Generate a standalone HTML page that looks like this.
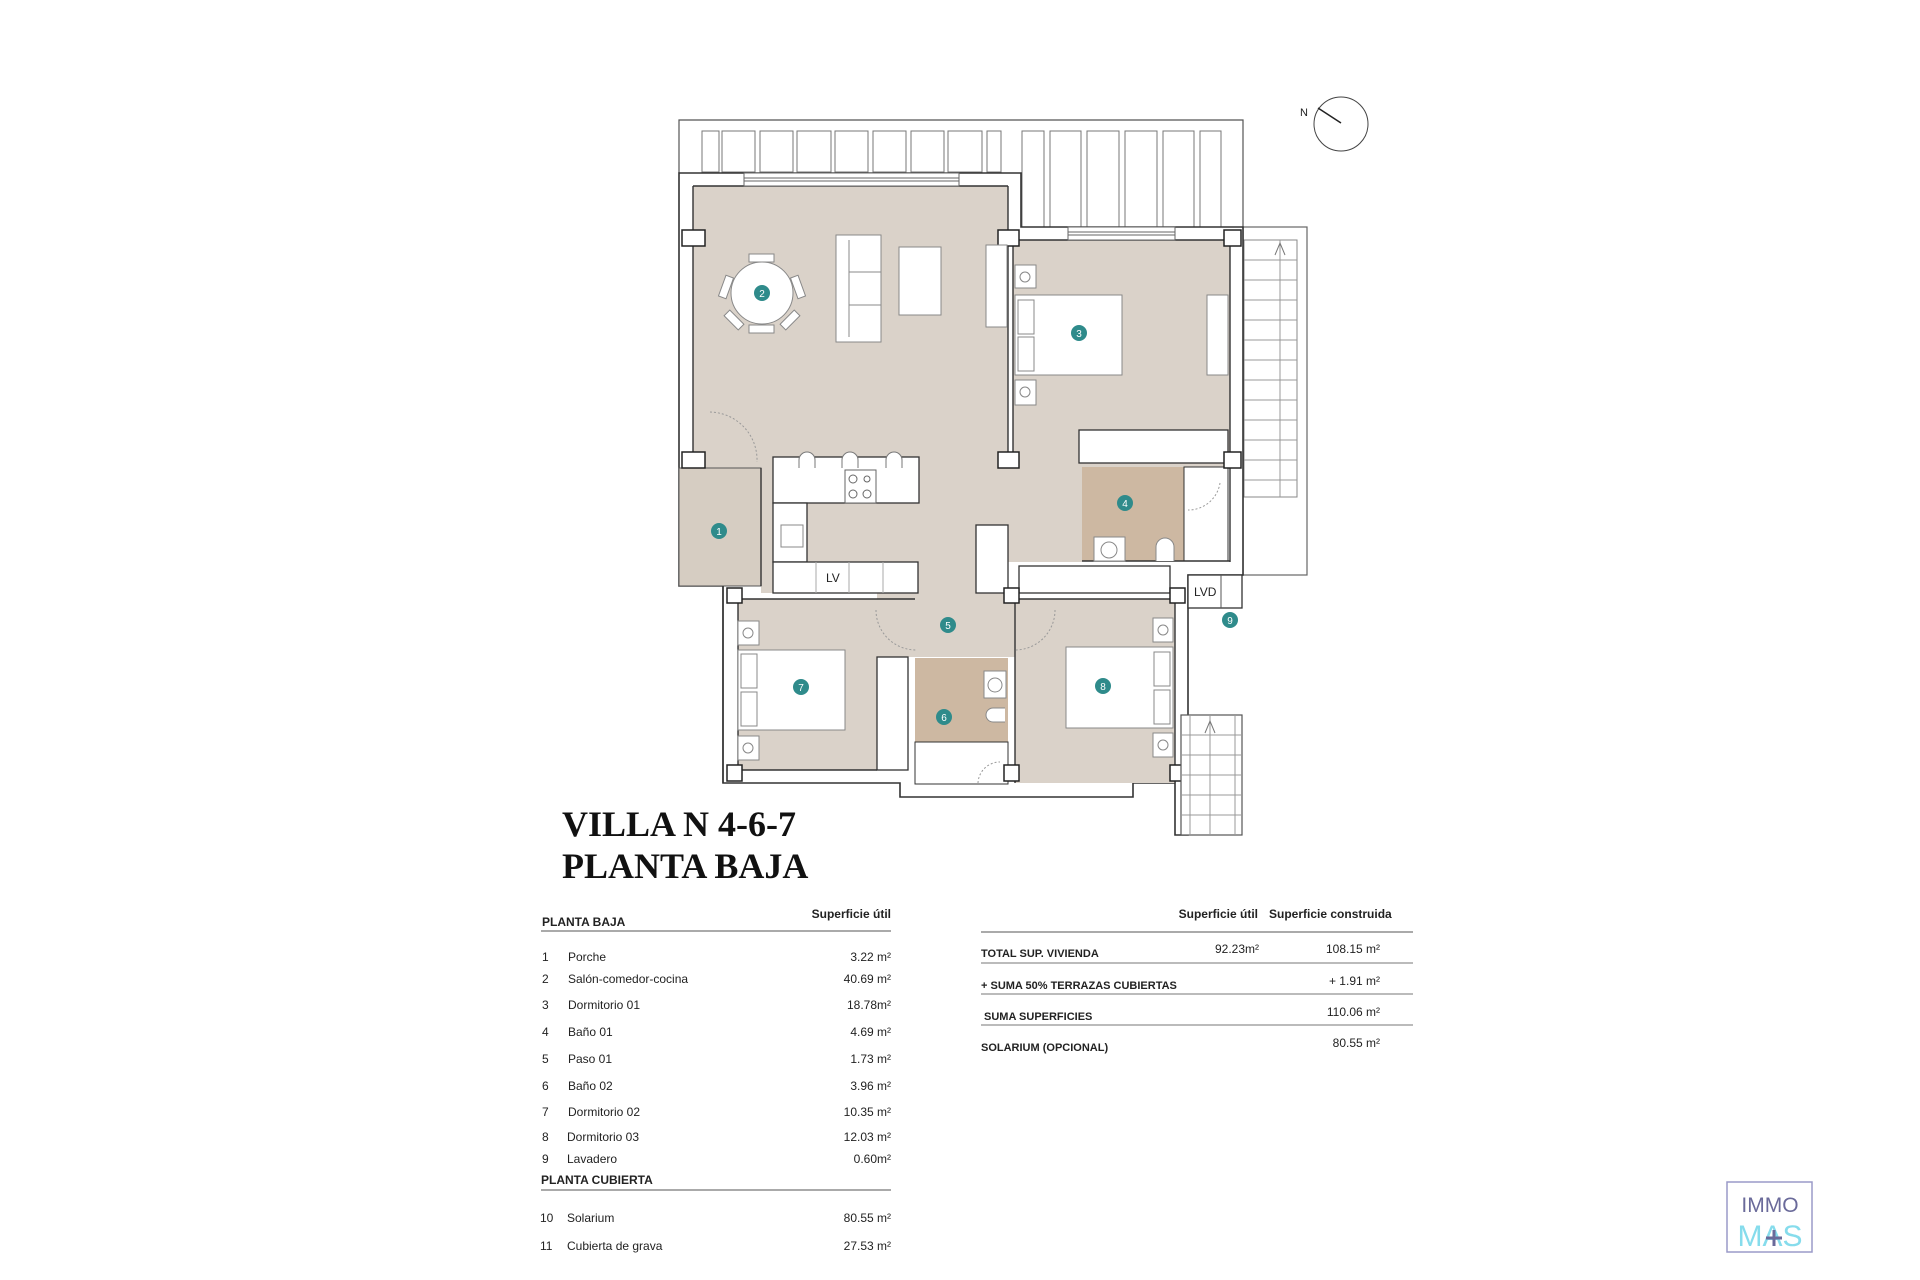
<!DOCTYPE html>
<html><head><meta charset="utf-8"><style>
html,body{margin:0;padding:0;background:#fff}
svg{display:block}
text{font-family:"Liberation Sans",sans-serif;fill:#222}
</style></head><body>
<svg width="1920" height="1280" viewBox="0 0 1920 1280" xmlns="http://www.w3.org/2000/svg">
<rect width="1920" height="1280" fill="#fff"/>
<circle cx="1341" cy="124" r="27" fill="none" stroke="#444" stroke-width="1"/>
<line x1="1318" y1="108" x2="1341" y2="123" stroke="#222" stroke-width="1.5"/>
<text x="1300" y="116" font-size="11">N</text>

<path d="M679,173 V120 H1243 V227" fill="none" stroke="#555" stroke-width="1.2"/>
<g fill="#fff" stroke="#777" stroke-width="1">
<rect x="702" y="131" width="17" height="41"/><rect x="722" y="131" width="33" height="41"/><rect x="760" y="131" width="33" height="41"/><rect x="797" y="131" width="34" height="41"/><rect x="835" y="131" width="33" height="41"/><rect x="873" y="131" width="33" height="41"/><rect x="911" y="131" width="33" height="41"/><rect x="948" y="131" width="34" height="41"/><rect x="987" y="131" width="14" height="41"/>
<rect x="1022" y="131" width="22" height="96"/><rect x="1050" y="131" width="31" height="96"/><rect x="1087" y="131" width="32" height="96"/><rect x="1125" y="131" width="32" height="96"/><rect x="1163" y="131" width="31" height="96"/><rect x="1200" y="131" width="21" height="96"/>
</g>
<rect x="1243" y="227" width="64" height="348" fill="#fff" stroke="#666" stroke-width="1.2"/>
<rect x="1244" y="240" width="53" height="257" fill="none" stroke="#888" stroke-width="1"/>
<g stroke="#999" stroke-width="1">
<line x1="1244" y1="260" x2="1297" y2="260"/><line x1="1244" y1="280" x2="1297" y2="280"/><line x1="1244" y1="300" x2="1297" y2="300"/><line x1="1244" y1="320" x2="1297" y2="320"/><line x1="1244" y1="340" x2="1297" y2="340"/><line x1="1244" y1="360" x2="1297" y2="360"/><line x1="1244" y1="380" x2="1297" y2="380"/><line x1="1244" y1="400" x2="1297" y2="400"/><line x1="1244" y1="420" x2="1297" y2="420"/><line x1="1244" y1="440" x2="1297" y2="440"/><line x1="1244" y1="460" x2="1297" y2="460"/><line x1="1244" y1="480" x2="1297" y2="480"/>
<line x1="1280" y1="240" x2="1280" y2="497"/>
</g>
<path d="M1275,255 L1280,243 L1285,255" fill="none" stroke="#777"/>

<path d="M679,173 H1021 V227 H1243 V575 H1188 V835 H1175 V783 H1133 V797 H900 V783 H723 V586 H679 Z" fill="#fff" stroke="#333" stroke-width="1.6"/>

<g fill="#dad2c9">
<rect x="693" y="186" width="315" height="282"/>
<rect x="761" y="468" width="247" height="125"/>
<rect x="1013" y="240" width="217" height="228"/>
<rect x="1008" y="468" width="74" height="94"/>
<rect x="877" y="593" width="138" height="64"/>
<rect x="738" y="599" width="139" height="171"/>
<rect x="1015" y="599" width="160" height="184"/>
</g>
<rect x="679" y="468" width="82" height="118" fill="#d6cdc2" stroke="#555" stroke-width="1"/>
<rect x="1082" y="467" width="102" height="94" fill="#cdb8a2"/>
<rect x="1184" y="467" width="44" height="94" fill="#fff" stroke="#333"/>
<rect x="915" y="658" width="93" height="84" fill="#cdb8a2"/>
<rect x="915" y="742" width="93" height="42" fill="#fff" stroke="#333"/>

<g fill="none" stroke="#333" stroke-width="1.4">
<line x1="693" y1="186" x2="1008" y2="186"/>
<line x1="693" y1="186" x2="693" y2="452"/>
<line x1="1008" y1="186" x2="1008" y2="468"/>
<line x1="1013" y1="240" x2="1013" y2="468"/>
<line x1="1013" y1="240" x2="1230" y2="240"/>
<line x1="1230" y1="240" x2="1230" y2="562"/>
<line x1="761" y1="468" x2="761" y2="586"/>
<line x1="723" y1="586" x2="723" y2="783"/>
<line x1="738" y1="599" x2="738" y2="770"/>
<line x1="738" y1="770" x2="877" y2="770"/>
<line x1="1015" y1="599" x2="1015" y2="783"/>
<line x1="1175" y1="599" x2="1175" y2="783"/>
<line x1="1082" y1="561" x2="1230" y2="561"/>
<line x1="738" y1="599" x2="915" y2="599"/>
<line x1="1015" y1="599" x2="1175" y2="599"/>
</g>
<g stroke="#666" stroke-width="1">
<rect x="744" y="173" width="215" height="13" fill="#fff"/>
<line x1="744" y1="178" x2="959" y2="178"/><line x1="744" y1="181" x2="959" y2="181"/>
<rect x="1068" y="227" width="107" height="13" fill="#fff"/>
<line x1="1068" y1="232" x2="1175" y2="232"/><line x1="1068" y1="235" x2="1175" y2="235"/>
</g>
<g fill="#fff" stroke="#333" stroke-width="1.3">
<rect x="1079" y="430" width="149" height="33"/>
<rect x="976" y="525" width="32" height="68"/>
<rect x="1019" y="566" width="151" height="27"/>
<rect x="877" y="657" width="31" height="113"/>
<rect x="773" y="457" width="146" height="46"/>
<rect x="773" y="503" width="34" height="59"/>
<rect x="773" y="562" width="145" height="31"/>
<rect x="1188" y="575" width="54" height="33"/>
</g>
<g fill="#fff" stroke="#222" stroke-width="1.5">
<rect x="682" y="230" width="23" height="16"/><rect x="998" y="230" width="21" height="16"/><rect x="1224" y="230" width="17" height="16"/>
<rect x="682" y="452" width="23" height="16"/><rect x="998" y="452" width="21" height="16"/><rect x="1224" y="452" width="17" height="16"/>
<rect x="727" y="588" width="15" height="15"/><rect x="1004" y="588" width="15" height="15"/><rect x="1170" y="588" width="15" height="15"/>
<rect x="727" y="765" width="15" height="16"/><rect x="1004" y="765" width="15" height="16"/><rect x="1170" y="765" width="15" height="16"/>
</g>
<line x1="1221" y1="575" x2="1221" y2="608" stroke="#555"/>
<g stroke="#aaa"><line x1="816" y1="562" x2="816" y2="593"/><line x1="849" y1="562" x2="849" y2="593"/><line x1="883" y1="562" x2="883" y2="593"/></g>
<text x="826" y="582" font-size="12">LV</text>
<text x="1194" y="596" font-size="12">LVD</text>
<rect x="845" y="470" width="31" height="33" fill="#fff" stroke="#666"/>
<g fill="none" stroke="#666"><circle cx="853" cy="479" r="4"/><circle cx="867" cy="479" r="3"/><circle cx="853" cy="494" r="4"/><circle cx="867" cy="494" r="4"/></g>
<rect x="781" y="525" width="22" height="22" fill="#fff" stroke="#888"/>
<g fill="#fff" stroke="#777"><path d="M799,468 v-8 a8,8 0 0 1 16,0 v8"/><path d="M842,468 v-8 a8,8 0 0 1 16,0 v8"/><path d="M886,468 v-8 a8,8 0 0 1 16,0 v8"/></g>

<g fill="#fff" stroke="#888" stroke-width="1">
<rect x="749" y="254" width="25" height="8"/><rect x="749" y="325" width="25" height="8"/>
<rect x="722" y="276" width="8" height="22" transform="rotate(20 726 287)"/><rect x="794" y="276" width="8" height="22" transform="rotate(-20 798 287)"/>
<rect x="730" y="310" width="8" height="20" transform="rotate(-45 734 320)"/><rect x="786" y="310" width="8" height="20" transform="rotate(45 790 320)"/>
<circle cx="762" cy="293" r="31"/>
<rect x="836" y="235" width="45" height="107"/>
<line x1="849" y1="240" x2="849" y2="337"/>
<line x1="849" y1="272" x2="881" y2="272"/><line x1="849" y1="305" x2="881" y2="305"/>
<rect x="899" y="247" width="42" height="68"/>
<rect x="986" y="245" width="21" height="82"/>
<rect x="1015" y="295" width="107" height="80"/>
<rect x="1018" y="300" width="16" height="34"/><rect x="1018" y="337" width="16" height="34"/>
<rect x="1015" y="265" width="21" height="23"/><rect x="1015" y="380" width="21" height="25"/>
<rect x="1207" y="295" width="21" height="80"/>
<rect x="738" y="650" width="107" height="80"/>
<rect x="741" y="654" width="16" height="34"/><rect x="741" y="692" width="16" height="34"/>
<rect x="738" y="621" width="21" height="24"/><rect x="738" y="736" width="21" height="24"/>
<rect x="1066" y="647" width="107" height="81"/>
<rect x="1154" y="652" width="16" height="34"/><rect x="1154" y="690" width="16" height="34"/>
<rect x="1153" y="618" width="20" height="24"/><rect x="1153" y="733" width="20" height="24"/>
<rect x="1094" y="537" width="31" height="24"/>
<rect x="984" y="671" width="22" height="27"/>
</g>
<g fill="none" stroke="#888"><circle cx="1025" cy="277" r="5"/><circle cx="1025" cy="392" r="5"/><circle cx="748" cy="633" r="5"/><circle cx="748" cy="748" r="5"/><circle cx="1163" cy="630" r="5"/><circle cx="1163" cy="745" r="5"/><circle cx="1109" cy="550" r="8"/><circle cx="995" cy="685" r="7"/>
<path d="M1156,561 v-14 a9,9 0 0 1 18,0 v14" fill="#fff"/><path d="M1005,722 h-12 a7,7 0 0 1 0,-14 h12" fill="#fff"/></g>
<g fill="none" stroke="#999" stroke-dasharray="2,2">
<path d="M710,412 A48,48 0 0 1 757,462"/>
<path d="M876,610 A40,40 0 0 0 916,650"/>
<path d="M1055,610 A40,40 0 0 1 1015,650"/>
<path d="M1220,483 A32,32 0 0 1 1188,510"/>
<path d="M978,783 A22,22 0 0 1 1000,762"/>
</g>
<rect x="1181" y="715" width="61" height="120" fill="#fff" stroke="#555" stroke-width="1.2"/>
<g stroke="#999"><line x1="1190" y1="715" x2="1190" y2="835"/><line x1="1235" y1="715" x2="1235" y2="835"/><line x1="1210" y1="715" x2="1210" y2="835"/>
<line x1="1181" y1="735" x2="1242" y2="735"/><line x1="1181" y1="755" x2="1242" y2="755"/><line x1="1181" y1="775" x2="1242" y2="775"/><line x1="1181" y1="795" x2="1242" y2="795"/><line x1="1181" y1="815" x2="1242" y2="815"/></g>
<path d="M1205,733 L1210,721 L1215,733" fill="none" stroke="#777"/>

<g fill="#2f8b8b">
<circle cx="719" cy="531" r="8"/><circle cx="762" cy="293" r="8"/><circle cx="1079" cy="333" r="8"/><circle cx="1125" cy="503" r="8"/><circle cx="948" cy="625" r="8"/><circle cx="944" cy="717" r="8"/><circle cx="801" cy="687" r="8"/><circle cx="1103" cy="686" r="8"/><circle cx="1230" cy="620" r="8"/>
</g>
<g font-size="10" text-anchor="middle">
<text x="719" y="535" style="fill:#fff">1</text><text x="762" y="297" style="fill:#fff">2</text><text x="1079" y="337" style="fill:#fff">3</text><text x="1125" y="507" style="fill:#fff">4</text><text x="948" y="629" style="fill:#fff">5</text><text x="944" y="721" style="fill:#fff">6</text><text x="801" y="691" style="fill:#fff">7</text><text x="1103" y="690" style="fill:#fff">8</text><text x="1230" y="624" style="fill:#fff">9</text>
</g>

<text x="562" y="836" font-size="36" font-weight="bold" style="font-family:'Liberation Serif',serif;fill:#111">VILLA N 4-6-7</text>
<text x="562" y="878" font-size="36" font-weight="bold" style="font-family:'Liberation Serif',serif;fill:#111">PLANTA BAJA</text>

<g font-size="12">
<text x="891" y="918" text-anchor="end" font-weight="bold">Superficie útil</text>
<text x="542" y="926" font-weight="bold">PLANTA BAJA</text>
<line x1="541" y1="931" x2="891" y2="931" stroke="#555"/>
<text x="542" y="961">1</text><text x="568" y="961">Porche</text><text x="891" y="961" text-anchor="end">3.22 m²</text>
<text x="542" y="983">2</text><text x="568" y="983">Salón-comedor-cocina</text><text x="891" y="983" text-anchor="end">40.69 m²</text>
<text x="542" y="1009">3</text><text x="568" y="1009">Dormitorio 01</text><text x="891" y="1009" text-anchor="end">18.78m²</text>
<text x="542" y="1036">4</text><text x="568" y="1036">Baño 01</text><text x="891" y="1036" text-anchor="end">4.69 m²</text>
<text x="542" y="1063">5</text><text x="568" y="1063">Paso 01</text><text x="891" y="1063" text-anchor="end">1.73 m²</text>
<text x="542" y="1090">6</text><text x="568" y="1090">Baño 02</text><text x="891" y="1090" text-anchor="end">3.96 m²</text>
<text x="542" y="1116">7</text><text x="568" y="1116">Dormitorio 02</text><text x="891" y="1116" text-anchor="end">10.35 m²</text>
<text x="542" y="1141">8</text><text x="567" y="1141">Dormitorio 03</text><text x="891" y="1141" text-anchor="end">12.03 m²</text>
<text x="542" y="1163">9</text><text x="567" y="1163">Lavadero</text><text x="891" y="1163" text-anchor="end">0.60m²</text>
<text x="541" y="1184" font-weight="bold">PLANTA CUBIERTA</text>
<line x1="541" y1="1190" x2="891" y2="1190" stroke="#555"/>
<text x="540" y="1222">10</text><text x="567" y="1222">Solarium</text><text x="891" y="1222" text-anchor="end">80.55 m²</text>
<text x="540" y="1250">11</text><text x="567" y="1250">Cubierta de grava</text><text x="891" y="1250" text-anchor="end">27.53 m²</text>
</g>
<g font-size="12">
<text x="1258" y="918" text-anchor="end" font-weight="bold">Superficie útil</text>
<text x="1269" y="918" font-weight="bold">Superficie construida</text>
<line x1="981" y1="932" x2="1413" y2="932" stroke="#555"/>
<text x="981" y="957" font-weight="bold" font-size="11">TOTAL SUP. VIVIENDA</text>
<text x="1259" y="953" text-anchor="end">92.23m²</text><text x="1380" y="953" text-anchor="end">108.15 m²</text>
<line x1="981" y1="963" x2="1413" y2="963" stroke="#777"/>
<text x="981" y="989" font-weight="bold" font-size="11">+ SUMA 50% TERRAZAS CUBIERTAS</text>
<text x="1380" y="985" text-anchor="end">+ 1.91 m²</text>
<line x1="981" y1="994" x2="1413" y2="994" stroke="#777"/>
<text x="984" y="1020" font-weight="bold" font-size="11">SUMA SUPERFICIES</text>
<text x="1380" y="1016" text-anchor="end">110.06 m²</text>
<line x1="981" y1="1025" x2="1413" y2="1025" stroke="#777"/>
<text x="981" y="1051" font-weight="bold" font-size="11">SOLARIUM (OPCIONAL)</text>
<text x="1380" y="1047" text-anchor="end">80.55 m²</text>
</g>
<rect x="1727" y="1182" width="85" height="70" fill="#fff" stroke="#9a9ac8" stroke-width="1.5"/>
<text x="1770" y="1212" font-size="21" text-anchor="middle" style="fill:#6a6a9a">IMMO</text>
<text x="1770" y="1246" font-size="30" text-anchor="middle" style="fill:#86dcec">MAS</text>
<g stroke="#6a6a9a" stroke-width="3"><line x1="1774" y1="1230" x2="1774" y2="1246"/><line x1="1766" y1="1238" x2="1782" y2="1238"/></g>
</svg>
</body></html>
